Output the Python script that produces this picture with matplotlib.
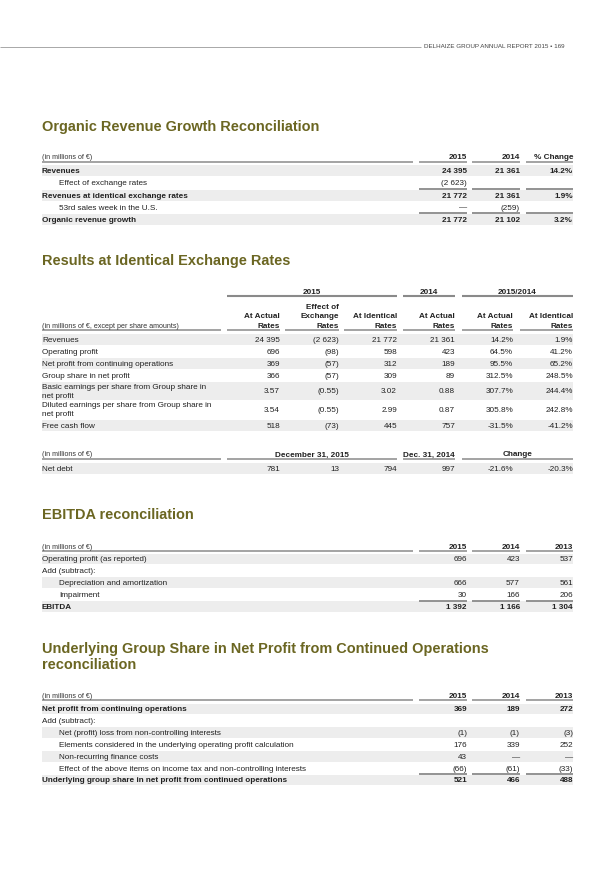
import matplotlib.pyplot as plt
from matplotlib.patches import Rectangle

# ---- data -------------------------------------------------------------
header_text = "DELHAIZE GROUP ANNUAL REPORT 2015 \u2022 169"

# Organic revenue growth reconciliation
org_cols = ["2015", "2014", "% Change"]
org_labels = ["Revenues", "Effect of exchange rates",
              "Revenues at identical exchange rates",
              "53rd sales week in the U.S.", "Organic revenue growth"]
org_2015 = ["24 395", "(2 623)", "21 772", "\u2014", "21 772"]
org_2014 = ["21 361", "", "21 361", "(259)", "21 102"]
org_change = ["14.2%", "", "1.9%", "", "3.2%"]
org_bold = [True, False, True, False, True]
org_indent = [False, True, False, True, False]

# Results at identical exchange rates
res_groups = ["2015", "2014", "2015/2014"]
res_cols = ["At Actual\nRates", "Effect of\nExchange\nRates", "At Identical\nRates",
            "At Actual\nRates", "At Actual\nRates", "At Identical\nRates"]
res_labels = ["Revenues", "Operating profit", "Net profit from continuing operations",
              "Group share in net profit",
              "Basic earnings per share from Group share in\nnet profit",
              "Diluted earnings per share from Group share in\nnet profit",
              "Free cash flow"]
res_actual_2015 = ["24 395", "696", "369", "366", "3.57", "3.54", "518"]
res_effect = ["(2 623)", "(98)", "(57)", "(57)", "(0.55)", "(0.55)", "(73)"]
res_ident_2015 = ["21 772", "598", "312", "309", "3.02", "2.99", "445"]
res_actual_2014 = ["21 361", "423", "189", "89", "0.88", "0.87", "757"]
res_chg_actual = ["14.2%", "64.5%", "95.5%", "312.5%", "307.7%", "305.8%", "-31.5%"]
res_chg_ident = ["1.9%", "41.2%", "65.2%", "248.5%", "244.4%", "242.8%", "-41.2%"]

debt_groups = ["December 31, 2015", "Dec. 31, 2014", "Change"]
debt_label = "Net debt"
debt_values = ["781", "13", "794", "997", "-21.6%", "-20.3%"]

# EBITDA reconciliation
ebitda_cols = ["2015", "2014", "2013"]
ebitda_labels = ["Operating profit (as reported)", "Add (subtract):",
                 "Depreciation and amortization", "Impairment", "EBITDA"]
ebitda_2015 = ["696", "", "666", "30", "1 392"]
ebitda_2014 = ["423", "", "577", "166", "1 166"]
ebitda_2013 = ["537", "", "561", "206", "1 304"]
ebitda_bold = [False, False, False, False, True]
ebitda_indent = [False, False, True, True, False]

# Underlying group share reconciliation
und_cols = ["2015", "2014", "2013"]
und_labels = ["Net profit from continuing operations", "Add (subtract):",
              "Net (profit) loss from non-controlling interests",
              "Elements considered in the underlying operating profit calculation",
              "Non-recurring finance costs",
              "Effect of the above items on income tax and non-controlling interests",
              "Underlying group share in net profit from continued operations"]
und_2015 = ["369", "", "(1)", "176", "43", "(66)", "521"]
und_2014 = ["189", "", "(1)", "339", "\u2014", "(61)", "466"]
und_2013 = ["272", "", "(3)", "252", "\u2014", "(33)", "488"]
und_bold = [True, False, False, False, False, False, True]
und_indent = [False, False, True, True, True, True, False]

# ---- style ------------------------------------------------------------
PX = 0.72            # pixel -> point at dpi 100
FONT = "Liberation Sans"
OLIVE = "#6b6622"
SHADE = "#ededed"
LINE = "#8a8a8a"
TXT = "#222222"
L, R = 42, 573
INDENT = 59

# three-column tables (sections 1, 3, 4)
col3_right = [467, 520, 573]
col3_spans = [(419, 467), (472, 520), (526, 573)]
label3_span = (42, 413)

# results table columns
col6_right = [280, 339, 397, 455, 513, 573]
col6_spans = [(227, 280), (285, 339), (344, 397), (403, 455), (462, 513), (520, 573)]
group_spans = [(227, 397), (403, 455), (462, 573)]
label6_span = (42, 221)

fig = plt.figure(figsize=(6.15, 8.7), dpi=100)
ax = fig.add_axes([0, 0, 1, 1])
ax.set_xlim(0, 615)
ax.set_ylim(870, 0)
ax.axis("off")


def txt(x, y, s, size=8.2, bold=False, ha="left", color=TXT, **kw):
    ax.text(x, y, s, fontsize=size * PX, fontweight="bold" if bold else "normal",
            ha=ha, va="center", color=color, family=FONT, **kw)


def hline(x0, x1, y, lw=1.1, color=LINE):
    ax.plot([x0, x1], [y, y], color=color, lw=lw, solid_capstyle="butt")


def band(y, h):
    ax.add_patch(Rectangle((L, y - h / 2), R - L, h, color=SHADE, lw=0, zorder=0))


def title(y, s):
    txt(L, y, s, size=14.5, bold=True, color=OLIVE)


def simple_table(y_head, y_line, y0, pitch, head_label, cols, labels, cols_vals,
                 bold, indent, sub_lines):
    txt(L, y_head, head_label, size=7.2, color="#333333")
    for c, x in zip(cols, col3_right):
        txt(x, y_head, c, bold=True, ha="right")
    hline(*label3_span, y_line)
    for a, b in col3_spans:
        hline(a, b, y_line)
    for i, lab in enumerate(labels):
        y = y0 + i * pitch
        if i % 2 == 0:
            band(y, pitch - 1)
        txt(INDENT if indent[i] else L, y, lab, bold=bold[i])
        for vals, x in zip(cols_vals, col3_right):
            txt(x, y, vals[i], bold=bold[i], ha="right")
    for k in sub_lines:
        ys = y0 + (k - 0.5) * pitch
        for a, b in col3_spans:
            hline(a, b, ys, lw=1.3)


# ---- page header --------------------------------------------------------
hline(0, 421, 47.5, lw=0.6, color="#9a9a9a")
txt(424, 47, header_text, size=6.3, color="#444444")

# ---- section 1 ----------------------------------------------------------
title(126.5, "Organic Revenue Growth Reconciliation")
simple_table(157.5, 162.5, 171.8, 12.15, "(in millions of \u20ac)", org_cols, org_labels,
             [org_2015, org_2014, org_change], org_bold, org_indent, [2, 4])

# ---- section 2 ----------------------------------------------------------
title(261, "Results at Identical Exchange Rates")
for g, (a, b) in zip(res_groups, group_spans):
    txt((a + b) / 2, 292.3, g, bold=True, ha="center")
    hline(a, b, 297.3, lw=1.5)
for c, x in zip(res_cols, col6_right):
    for j, part in enumerate(reversed(c.split("\n"))):
        txt(x, 326.3 - j * 9.4, part, bold=True, ha="right")
txt(L, 326.8, "(in millions of \u20ac, except per share amounts)", size=7.2, color="#333333")
hline(*label6_span, 331.3)
for a, b in col6_spans:
    hline(a, b, 331.3)

res_y = [340.6, 352.6, 364.6, 376.6, 391.8, 410.2, 426.6]
res_h = [12, 12, 12, 12, 18.6, 18.6, 12]
res_vals = [res_actual_2015, res_effect, res_ident_2015, res_actual_2014,
            res_chg_actual, res_chg_ident]
for i, lab in enumerate(res_labels):
    y = res_y[i]
    if i % 2 == 0:
        band(y, res_h[i] - 1)
    parts = lab.split("\n")
    if len(parts) == 1:
        txt(L, y, lab)
    else:
        txt(L, y - 4.4, parts[0])
        txt(L, y + 4.4, parts[1])
    for vals, x in zip(res_vals, col6_right):
        txt(x, y, vals[i], ha="right")

txt(L, 455, "(in millions of \u20ac)", size=7.2, color="#333333")
for g, (a, b) in zip(debt_groups, group_spans):
    txt((a + b) / 2, 455, g, bold=True, ha="center")
    hline(a, b, 460.3)
hline(*label6_span, 460.3)
band(469.3, 11)
txt(L, 469.3, debt_label)
for v, x in zip(debt_values, col6_right):
    txt(x, 469.3, v, ha="right")

# ---- section 3 ----------------------------------------------------------
title(515, "EBITDA reconciliation")
simple_table(547.3, 551.6, 560, 11.9, "(in millions of \u20ac)", ebitda_cols, ebitda_labels,
             [ebitda_2015, ebitda_2014, ebitda_2013], ebitda_bold, ebitda_indent, [4])

# ---- section 4 ----------------------------------------------------------
title(649.3, "Underlying Group Share in Net Profit from Continued Operations")
title(665.3, "reconciliation")
simple_table(696.7, 701.2, 710, 11.83, "(in millions of \u20ac)", und_cols, und_labels,
             [und_2015, und_2014, und_2013], und_bold, und_indent, [6])

fig.savefig("out.png", dpi=100)
